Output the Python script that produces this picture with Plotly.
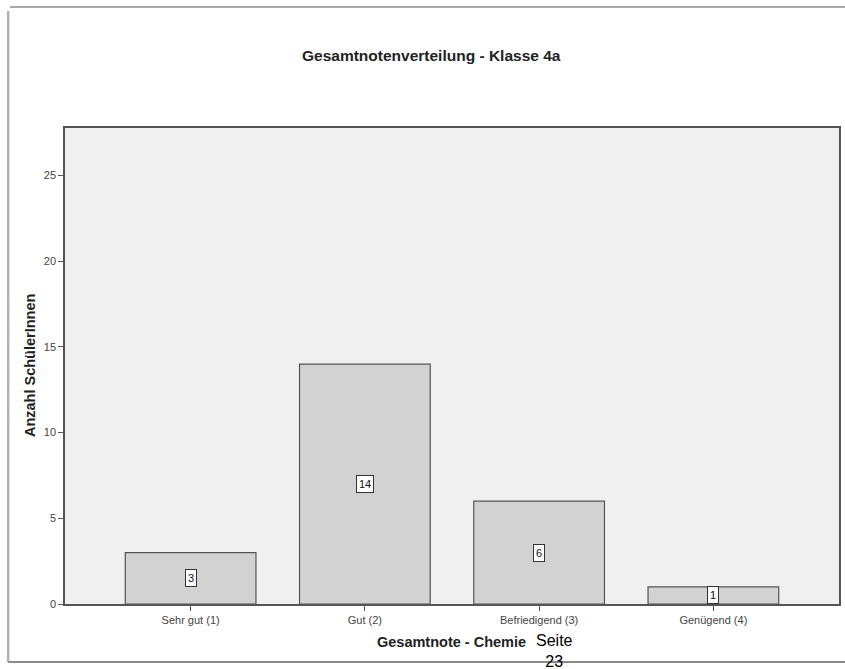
import plotly.graph_objects as go

# Grade distribution, class 4a, chemistry
categories = ["Sehr gut (1)", "Gut (2)", "Befriedigend (3)", "Genügend (4)"]
counts = [3, 14, 6, 1]
y_ticks = [0, 5, 10, 15, 20, 25]

W, H = 845, 669
L, R, T, B = 65, 4, 128, 65
pw, ph = W - L - R, H - T - B

def px_x(px):
    return (px - L) / pw

def px_y(py):
    return (H - B - py) / ph

FONT = "Liberation Sans, Arial, sans-serif"

fig = go.Figure()
fig.add_trace(go.Bar(
    x=list(range(len(categories))),
    y=counts,
    marker=dict(color="#d2d2d2", line=dict(color="#555555", width=1.2)),
    width=0.75,
    hoverinfo="skip",
))

# value labels in white boxes at half bar height
annotations = []
for i, v in enumerate(counts):
    annotations.append(dict(
        x=i, y=v / 2, xref="x", yref="y", text=str(v), showarrow=False,
        xanchor="center", yanchor="middle",
        font=dict(family=FONT, size=11, color="#111111"),
        bgcolor="white", bordercolor="#333333", borderwidth=1, borderpad=2,
    ))

def label(px, py, text, size, color="#222222", angle=0):
    return dict(x=px_x(px), y=px_y(py), xref="paper", yref="paper",
                text=text, showarrow=False, textangle=angle,
                xanchor="center", yanchor="middle",
                font=dict(family=FONT, size=size, color=color))

annotations += [
    label(432, 55, "<b>Gesamtnotenverteilung - Klasse 4a</b>", 15.5),
    label(452, 642, "<b>Gesamtnote - Chemie</b>", 14.5),
    label(30, 366, "<b>Anzahl SchülerInnen</b>", 14.5, angle=-90),
    label(556, 651, "Seite<br>23", 16, color="#000000"),
]

# outer page frame
shapes = [
    dict(type="line", xref="paper", yref="paper",
         x0=px_x(10), x1=px_x(860), y0=px_y(7), y1=px_y(7),
         line=dict(color="#a8a8a8", width=2)),
    dict(type="line", xref="paper", yref="paper",
         x0=px_x(8), x1=px_x(8), y0=px_y(11), y1=px_y(662),
         line=dict(color="#b0b0b0", width=2.5)),
    dict(type="line", xref="paper", yref="paper",
         x0=px_x(8), x1=px_x(860), y0=px_y(662), y1=px_y(662),
         line=dict(color="#8a8a8a", width=2)),
]

fig.update_layout(
    width=W, height=H,
    margin=dict(l=L, r=R, t=T, b=B),
    paper_bgcolor="white",
    plot_bgcolor="#f0f0f0",
    showlegend=False,
    font=dict(family=FONT, size=11, color="#444444"),
    annotations=annotations,
    shapes=shapes,
    xaxis=dict(
        range=[-0.721, 3.721],
        tickvals=list(range(len(categories))),
        ticktext=categories,
        ticks="outside", ticklen=5, tickcolor="#555555",
        showline=True, linecolor="#555555", linewidth=1.5, mirror=True,
        showgrid=False, zeroline=False,
        tickfont=dict(family=FONT, size=11, color="#444444"),
    ),
    yaxis=dict(
        range=[0, 27.77],
        tickvals=y_ticks,
        ticks="outside", ticklen=5, tickcolor="#555555",
        showline=True, linecolor="#555555", linewidth=1.5, mirror=True,
        showgrid=False, zeroline=False,
        tickfont=dict(family=FONT, size=11, color="#444444"),
    ),
)

fig.write_html("out.html")
